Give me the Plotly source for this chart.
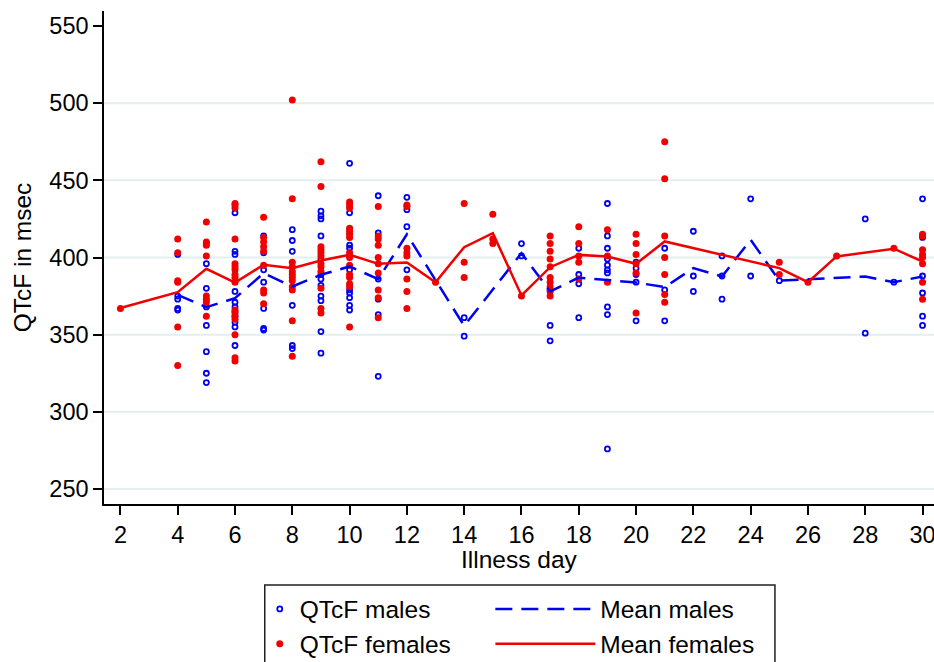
import plotly.graph_objects as go

# ---------------- data ----------------
female_day = ([2] + [4]*6 + [5]*9 + [6]*17 + [7]*9 + [8]*12 + [9]*12 + [10]*15 + [11]*10 +
              [12]*8 + [13] + [14]*3 + [15]*3 + [16] + [17]*10 + [18]*5 + [19]*3 + [20]*6 +
              [21]*7 + [25]*2 + [26] + [27] + [29] + [30]*8)
female_qtcf = [367,
               412, 403, 385, 384, 355, 330,
               423, 410, 409, 408, 401, 375, 373, 371, 362,
               435, 434, 432, 412, 396, 394, 392, 389, 387, 384, 366, 364, 362, 360, 350, 335, 333,
               426, 413, 410, 407, 404, 395, 379, 377, 370,
               502, 438, 397, 394, 391, 389, 387, 385, 381, 379, 359, 336,
               462, 446, 407, 405, 403, 401, 396, 394, 391, 380, 367, 364,
               436, 434, 432, 419, 417, 415, 413, 403, 400, 395, 389, 387, 383, 381, 355,
               433, 414, 412, 408, 400, 396, 390, 379, 374, 361,
               434, 433, 406, 403, 401, 386, 378, 367,
               384,
               435, 397, 387,
               428, 412, 409,
               375,
               414, 409, 404, 399, 394, 387, 384, 381, 379, 375,
               420, 409, 401, 397, 386,
               418, 401, 384,
               415, 409, 402, 396, 390, 364,
               475, 451, 414, 400, 389, 376, 371,
               397, 389,
               384,
               401,
               406,
               415, 414, 405, 402, 400, 396, 384, 373]

male_day = ([4]*5 + [5]*7 + [6]*11 + [7]*7 + [8]*6 + [9]*12 + [10]*11 + [11]*6 + [12]*4 +
            [14]*2 + [16]*2 + [17]*3 + [18]*4 + [19]*10 + [20]*5 + [21]*3 + [22]*3 + [23]*3 +
            [24]*2 + [25] + [28]*2 + [29] + [30]*6)
male_qtcf = [402, 375, 373, 367, 366,
             396, 380, 368, 356, 339, 325, 319,
             429, 404, 402, 378, 371, 368, 365, 362, 358, 355, 343,
             414, 403, 392, 384, 367, 354, 353,
             418, 411, 404, 369, 343, 341,
             430, 427, 425, 414, 399, 389, 386, 382, 375, 372, 352, 338,
             461, 429, 408, 406, 401, 392, 379, 377, 374, 369, 366,
             440, 416, 386, 373, 363, 323,
             439, 431, 420, 392,
             361, 349,
             409, 401,
             378, 356, 346,
             406, 389, 383, 361,
             435, 414, 406, 399, 395, 392, 390, 368, 363, 276,
             397, 393, 389, 384, 359,
             406, 379, 359,
             417, 388, 378,
             401, 388, 373,
             438, 388,
             385,
             425, 351,
             384,
             438, 413, 388, 377, 362, 356]

mean_m_day = [4, 5, 6, 7, 8, 9, 10, 11, 12, 14, 16, 17, 18, 19, 20, 21, 22, 23, 24, 25, 28, 29, 30]
mean_m = [375.8, 367.8, 373.6, 389.9, 381.2, 388.8, 394.2, 386.0, 415.0, 355.7, 402.8, 378.0,
          387.0, 385.5, 383.8, 380.8, 393.1, 387.7, 411.5, 385.0, 387.7, 384.0, 387.7]

mean_f_day = [2, 4, 5, 6, 7, 8, 9, 10, 11, 12, 13, 14, 15, 16, 17, 18, 19, 20, 21, 25, 26, 27, 29, 30]
mean_f = [367.3, 377.5, 392.7, 383.8, 395.3, 393.1, 398.0, 401.8, 395.9, 396.8, 384.0, 406.7,
          415.8, 375.4, 393.7, 401.7, 400.7, 395.9, 410.4, 393.1, 384.0, 400.7, 405.7, 397.4]

x_ticks = list(range(2, 31, 2))
y_ticks = [250, 300, 350, 400, 450, 500, 550]
grid_vals = [250, 300, 350, 400, 450, 500]

# ---------------- styling ----------------
BLUE = "#0000f0"
RED = "#f00000"
FONT = "Liberation Sans, Arial, sans-serif"
TICK_SIZE = 23.5
TITLE_SIZE = 24.5
LEG_SIZE = 24.5

fig = go.Figure()
fig.add_trace(go.Scatter(
    x=male_day, y=male_qtcf, mode="markers", name="QTcF males", legend="legend",
    marker=dict(symbol="circle-open", size=5, color=BLUE, line=dict(width=1.8, color=BLUE))))
fig.add_trace(go.Scatter(
    x=female_day, y=female_qtcf, mode="markers", name="QTcF females", legend="legend",
    marker=dict(symbol="circle", size=7, color=RED, line=dict(width=0))))
fig.add_trace(go.Scatter(
    x=mean_m_day, y=mean_m, mode="lines", name="Mean males", legend="legend2",
    line=dict(color=BLUE, width=2.5, dash="17px,9px")))
fig.add_trace(go.Scatter(
    x=mean_f_day, y=mean_f, mode="lines", name="Mean females", legend="legend2",
    line=dict(color=RED, width=2.5)))

for g in grid_vals:
    fig.add_shape(type="line", xref="paper", x0=0, x1=1, yref="y", y0=g, y1=g,
                  line=dict(color="#e3eeee", width=2), layer="below")

# plot-area geometry in pixels
L, T, R, Btm = 104.3, 11, 934, 504
W, H = R - L, Btm - T


def px_x(p):
    return (p - L) / W


def px_y(p):
    return (Btm - p) / H


fig.add_shape(type="rect", xref="paper", yref="paper",
              x0=px_x(265), x1=px_x(775), y0=px_y(672), y1=px_y(585),
              line=dict(color="#202020", width=1.5), fillcolor="rgba(0,0,0,0)")

# x-axis title placed as an annotation to match its exact position
fig.add_annotation(text="Illness day", xref="paper", yref="paper",
                   x=px_x(520), y=px_y(559.5), xanchor="center", yanchor="middle",
                   showarrow=False, font=dict(family=FONT, size=TITLE_SIZE, color="black"))

fig.update_layout(
    width=934, height=662,
    margin=dict(l=L, r=0, t=T, b=662 - Btm, pad=0, autoexpand=False),
    paper_bgcolor="white", plot_bgcolor="white",
    font=dict(family=FONT, size=TICK_SIZE, color="black"),
    showlegend=True,
    legend=dict(x=px_x(260), y=px_y(586.5), xanchor="left", yanchor="top",
                orientation="v", bgcolor="rgba(0,0,0,0)", borderwidth=0,
                font=dict(family=FONT, size=LEG_SIZE, color="black"), tracegroupgap=0,
                itemwidth=30),
    legend2=dict(x=px_x(490.5), y=px_y(586.5), xanchor="left", yanchor="top",
                 orientation="v", bgcolor="rgba(0,0,0,0)", borderwidth=0,
                 font=dict(family=FONT, size=LEG_SIZE, color="black"), tracegroupgap=0,
                 itemwidth=100),
    xaxis=dict(range=[1.427, 30.4], tickvals=x_ticks, ticks="outside", ticklen=9,
               tickwidth=1.5, tickcolor="black", showline=True, linecolor="black",
               linewidth=1.5, showgrid=False, zeroline=False, automargin=False,
               ticklabeloverflow="allow", tickfont=dict(size=TICK_SIZE)),
    yaxis=dict(range=[240.3, 559.7], tickvals=y_ticks, ticks="outside", ticklen=9,
               tickwidth=1.5, tickcolor="black", showline=True, linecolor="black",
               linewidth=1.5, showgrid=False, zeroline=False, automargin=False,
               title=dict(text="QTcF in msec", font=dict(size=TITLE_SIZE), standoff=11),
               tickfont=dict(size=TICK_SIZE)),
)

fig.write_html("out.html", config={"displayModeBar": False},
               post_script="document.body.style.margin='0';")
